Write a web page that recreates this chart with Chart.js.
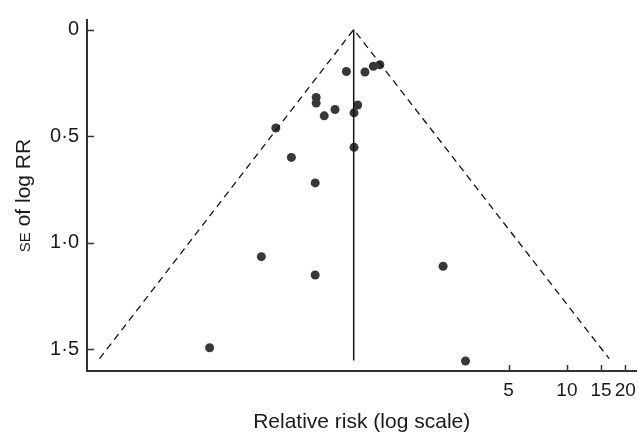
<!DOCTYPE html>
<html>
<head>
<meta charset="utf-8">
<script src="https://cdn.jsdelivr.net/npm/chart.js@4/dist/chart.umd.min.js"></script>
<style>
  html, body { margin: 0; padding: 0; background: #fff; }
  #wrap { width: 644px; height: 432px; }
</style>
</head>
<body>
<div id="wrap"><canvas id="funnel" width="644" height="432"></canvas></div>
<script>
// relative risk and standard error of log RR for each study
const studyRR = [0.73, 0.91, 1.005, 1.086, 0.51, 0.51, 0.638, 0.561, 0.835, 0.799,
                 0.316, 0.799, 0.38, 0.504, 0.266, 0.504, 0.144, 2.30, 3.00];
const studySE = [0.197, 0.199, 0.172, 0.165, 0.319, 0.345, 0.375, 0.405, 0.354, 0.391,
                 0.462, 0.553, 0.600, 0.720, 1.066, 1.152, 1.494, 1.111, 1.556];

// pooled estimate (vertical line) and the 95% funnel limits
const pooledRR = [0.796, 0.796];
const pooledSE = [0, 1.554];
const funnelRR = [0.039, 0.796, 16.5];
const funnelSE = [1.545, 0, 1.545];

// axis ticks
const xTicks = [5, 10, 15, 20];
const yTicks = [0, 0.5, 1, 1.5];

const FONT = "'Liberation Sans', Arial, Helvetica, sans-serif";
const INK = '#1a1a1a';

function pairUp(xs, ys) {
  return xs.map((x, i) => ({ x: x, y: ys[i] }));
}

// ticks point into the plot, so draw them ourselves
const innerTicks = {
  id: 'innerTicks',
  afterDraw(chart) {
    const { ctx, chartArea, scales } = chart;
    ctx.save();
    ctx.strokeStyle = '#333';
    ctx.lineWidth = 1.5;
    ctx.beginPath();
    xTicks.forEach(v => {
      const px = Math.round(scales.x.getPixelForValue(v)) + 0.5;
      ctx.moveTo(px, chartArea.bottom);
      ctx.lineTo(px, chartArea.bottom - 6);
    });
    yTicks.forEach(v => {
      const py = Math.round(scales.y.getPixelForValue(v)) + 0.5;
      ctx.moveTo(chartArea.left, py);
      ctx.lineTo(chartArea.left + 7, py);
    });
    ctx.stroke();
    ctx.restore();
  }
};

// y title with "SE" in small capitals
const seTitle = {
  id: 'seTitle',
  afterDraw(chart) {
    const { ctx, chartArea } = chart;
    const cy = (chartArea.top + chartArea.bottom) / 2;
    ctx.save();
    ctx.translate(24, cy);
    ctx.rotate(-Math.PI / 2);
    ctx.fillStyle = INK;
    ctx.textBaseline = 'middle';
    const small = '15px ' + FONT, big = '21px ' + FONT;
    ctx.font = small;
    const w1 = ctx.measureText('SE').width;
    ctx.font = big;
    const w2 = ctx.measureText(' of log RR').width;
    let x = -(w1 + w2) / 2;
    ctx.font = small;
    ctx.textAlign = 'left';
    ctx.fillText('SE', x, 1.5);
    ctx.font = big;
    ctx.fillText(' of log RR', x + w1, 0);
    ctx.restore();
  }
};

new Chart(document.getElementById('funnel'), {
  type: 'scatter',
  data: {
    datasets: [
      {
        label: 'Funnel',
        data: pairUp(funnelRR, funnelSE),
        showLine: true,
        borderColor: '#111',
        borderWidth: 1.3,
        borderDash: [7, 5],
        pointRadius: 0,
        fill: false
      },
      {
        label: 'Pooled',
        data: pairUp(pooledRR, pooledSE),
        showLine: true,
        borderColor: '#111',
        borderWidth: 1.5,
        pointRadius: 0
      },
      {
        label: 'Studies',
        data: pairUp(studyRR, studySE),
        backgroundColor: '#383838',
        borderWidth: 0,
        pointRadius: 4.5
      }
    ]
  },
  options: {
    responsive: false,
    animation: false,
    layout: { padding: { top: 15, right: 5, left: 0, bottom: 0 } },
    plugins: {
      legend: { display: false },
      tooltip: { enabled: false }
    },
    scales: {
      x: {
        type: 'logarithmic',
        min: 0.0336,
        max: 22.8,
        afterBuildTicks: s => { s.ticks = xTicks.map(v => ({ value: v })); },
        afterFit: s => { s.height = 61; },
        grid: { display: false, drawTicks: false },
        border: { display: true, color: '#333', width: 2 },
        ticks: {
          color: INK,
          padding: 8,
          maxRotation: 0,
          autoSkip: false,
          font: { family: FONT, size: 19 },
          callback: v => String(v)
        },
        title: {
          display: true,
          text: 'Relative risk (log scale)',
          color: INK,
          padding: { top: 0, bottom: -3 },
          font: { family: FONT, size: 21 }
        }
      },
      y: {
        reverse: true,
        min: -0.045,
        max: 1.603,
        afterBuildTicks: s => { s.ticks = yTicks.map(v => ({ value: v })); },
        afterFit: s => { s.width = 87; },
        grid: { display: false, drawTicks: false },
        border: { display: true, color: '#333', width: 2 },
        ticks: {
          color: INK,
          padding: 8,
          font: { family: FONT, size: 20 },
          callback: v => v === 0 ? '0' : v.toFixed(1).replace('.', '\u00B7')
        }
      }
    }
  },
  plugins: [innerTicks, seTitle]
});
</script>
</body>
</html>
